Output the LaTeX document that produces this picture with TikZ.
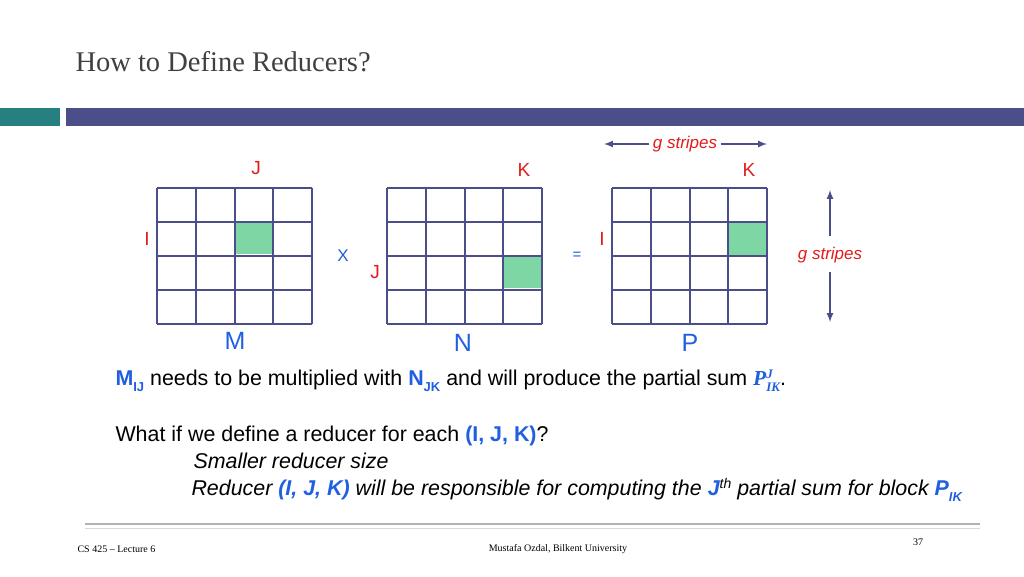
\documentclass[tikz,border=0pt]{standalone}
\usepackage{fontspec}
\setmainfont{Liberation Serif}
\setsansfont{Liberation Sans}
\newcommand{\smb}[1]{{\fontsize{13}{13}\selectfont\bfseries #1}}
\begin{document}
\begin{tikzpicture}[x=1pt,y=-1pt,
  gridl/.style={draw=lc,line width=2pt},
  red/.style={text=rc,font=\sffamily\fontsize{19}{19}\selectfont},
  blu/.style={text=bc,font=\sffamily\fontsize{25}{25}\selectfont},
  body/.style={font=\sffamily\fontsize{21.4}{22}\selectfont,anchor=west},
  arr/.style={draw=lc,line width=2pt,-latex}]
\definecolor{lc}{HTML}{4B4E88}
\definecolor{rc}{HTML}{E41B1B}
\definecolor{bc}{HTML}{1F5FE0}
\definecolor{gc}{HTML}{7ED6A5}
\useasboundingbox (0,0) rectangle (1024,576);
\fill[white] (0,0) rectangle (1024,576);
\node[anchor=west,text=black!75,font=\fontsize{28.5}{28}\selectfont] (title) at (72,62) {How to Define Reducers?};
\fill[teal!70!gray] (0,108) rectangle (60,126);
\fill[lc] (66,108) rectangle (1024,126);
% grids
\fill[gc] (234,221) rectangle (272,254);
\fill[gc] (504,255) rectangle (542,288);
\fill[gc] (729,221) rectangle (767,255);
\foreach \x in {157,387,612}{
  \foreach \i in {0,...,4}{
    \draw[gridl] (\x+38.75*\i,188) -- (\x+38.75*\i,324);
    \draw[gridl] (\x,188+34*\i) -- (\x+155,188+34*\i);
  }
}
\node[red] (j1) at (256,168) {J};
\node[red] (k1) at (524,170) {K};
\node[red] (k2) at (749,170) {K};
\node[red] (i1) at (147,239) {I};
\node[red] (i2) at (602,239) {I};
\node[red] (j2) at (375,272) {J};
\node[text=bc,font=\sffamily\fontsize{17}{17}\selectfont] (x) at (343,256) {X};
\node[text=bc,font=\sffamily\fontsize{15}{15}\selectfont] (eq) at (577,256) {=};
\node[red,font=\sffamily\itshape\fontsize{17}{17}\selectfont] (gs1) at (685,144) {g stripes};
\coordinate (a1) at (604,144); \coordinate (a2) at (767,144);
\draw[arr] (gs1.west) -- (a1);
\draw[arr] (gs1.east) -- (a2);
\node[red,font=\sffamily\itshape\fontsize{17}{17}\selectfont] (gs2) at (830,255) {g stripes};
\coordinate (v1) at (830,190); \coordinate (v2) at (830,322);
\draw[arr] (830,236) -- (v1);
\draw[arr] (830,272) -- (v2);
\node[blu] (m) at (235,341) {M};
\node[blu] (n) at (463,343) {N};
\node[blu] (p) at (690,343) {P};
\node[body] (l1) at (112,381) {\textcolor{bc}{\textbf{M}\raisebox{-0.5ex}{\smb{IJ}}} needs to be multiplied with \textcolor{bc}{\textbf{N}\raisebox{-0.5ex}{\smb{JK}}} and will produce the partial sum \textcolor{bc}{\rmfamily\bfseries\itshape P\rlap{\raisebox{0.7ex}{\smb{J}}}\raisebox{-0.6ex}{\smb{IK}}}.};
\node[body] (l2) at (112,436) {What if we define a reducer for each \textcolor{bc}{\textbf{(I, J, K)}}?};
\node[body,font=\sffamily\itshape\fontsize{21.4}{22}\selectfont] (l3) at (190,461) {Smaller reducer size};
\node[body,font=\sffamily\itshape\fontsize{21.4}{22}\selectfont] (l4) at (188,490) {Reducer \textcolor{bc}{\textbf{(I, J, K)}} will be responsible for computing the \textcolor{bc}{\textbf{J}}\raisebox{0.6ex}{\fontsize{14}{14}\selectfont th} partial sum for block \textcolor{bc}{\textbf{P}\raisebox{-0.5ex}{\smb{IK}}}};
\draw[gray!60,line width=1.5pt] (85,524) -- (980,524);
\draw[gray!30,line width=1pt] (85,528) -- (980,528);
\node[anchor=west,font=\fontsize{10}{10}\selectfont] (f1) at (74,549) {CS 425 -- Lecture 6};
\node[font=\fontsize{10}{10}\selectfont] (f2) at (558,549) {Mustafa Ozdal, Bilkent University};
\node[font=\fontsize{10}{10}\selectfont] (f3) at (918,542) {37};
\end{tikzpicture}
\end{document}
